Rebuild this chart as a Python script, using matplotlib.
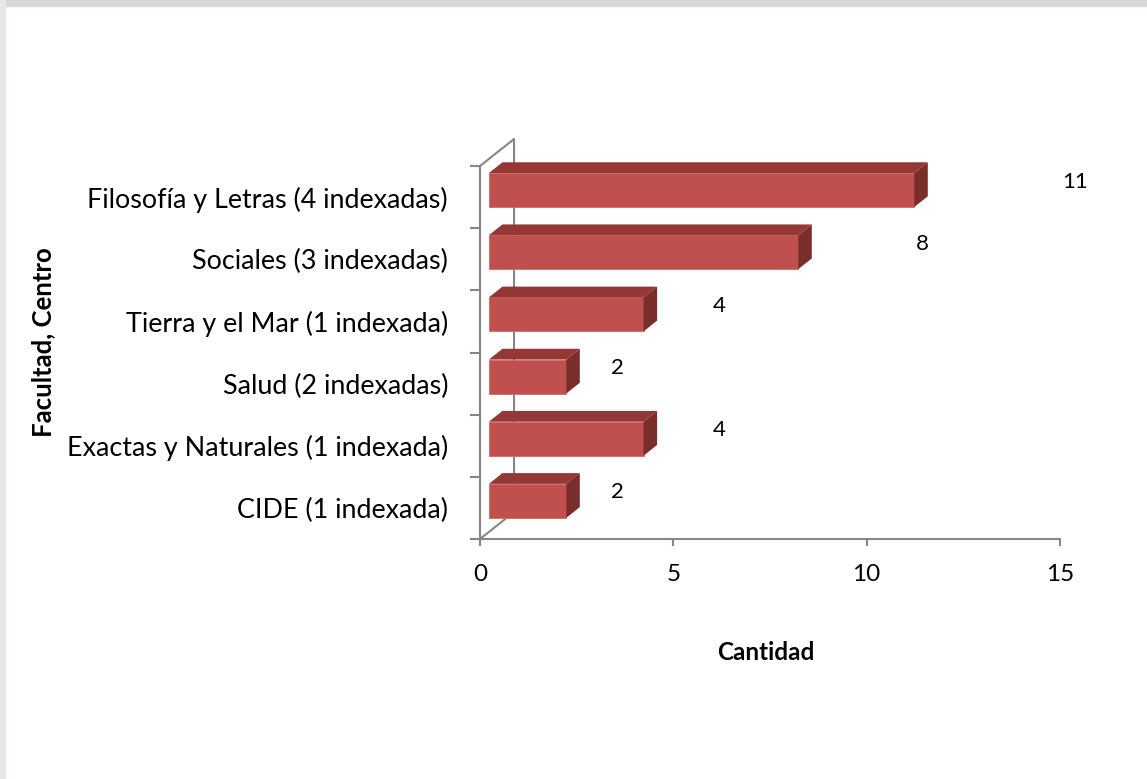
import matplotlib.pyplot as plt
from matplotlib.patches import Polygon, Rectangle
import numpy as np

plt.rcParams['font.family'] = ['Lato', 'DejaVu Sans']

# Data (top to bottom as shown)
categories = ['Filosofía y Letras (4 indexadas)', 'Sociales (3 indexadas)',
              'Tierra y el Mar (1 indexada)', 'Salud (2 indexadas)',
              'Exactas y Naturales (1 indexada)', 'CIDE (1 indexada)']
values = [11, 8, 4, 2, 4, 2]
xticks = [0, 5, 10, 15]

front_col = '#C0504D'
top_col = '#953735'
side_col = '#7A2E2C'
axis_col = '#868686'

W, H = 1147, 779
fig = plt.figure(figsize=(W / 100, H / 100), dpi=100)

# gray frame at top / left
fig.patches.append(Rectangle((0, 1 - 6 / H), 1, 6 / H, transform=fig.transFigure,
                             color='#DAD6D8', zorder=0))
fig.patches.append(Rectangle((0, 0), 5 / W, 1, transform=fig.transFigure,
                             color='#E8E6E8', zorder=0))

ax = fig.add_axes([480 / W, 1 - 539 / H, 580 / W, 373 / H])
ax.set_xlim(0, 15)
ax.set_ylim(0, 6)
ax.patch.set_alpha(0)

# depth of the 3D box in data units
DX, DY = 0.88, 0.434
f_front, f_bar = 0.26, 0.40
bh = 0.547

# back wall lines
ax.plot([0, DX, DX], [6, 6 + DY, DY], color=axis_col, lw=1.5, clip_on=False, zorder=1)
ax.plot([0, DX], [0, DY], color=axis_col, lw=1.5, clip_on=False, zorder=1)

n = len(categories)
centers = np.arange(n)[::-1] + 0.5
x0 = f_front * DX
y_off = f_front * DY
bdx, bdy = f_bar * DX, f_bar * DY

ax.barh(centers + y_off, values, height=bh, left=x0, color=front_col,
        edgecolor='#D06A66', linewidth=0.6, zorder=3)
for c, v in zip(centers, values):
    yb = c + y_off - bh / 2
    yt = c + y_off + bh / 2
    x1 = x0 + v
    ax.add_patch(Polygon([(x0, yt), (x1, yt), (x1 + bdx, yt + bdy), (x0 + bdx, yt + bdy)],
                         closed=True, facecolor=top_col, edgecolor='none', zorder=3,
                         clip_on=False))
    ax.add_patch(Polygon([(x1, yb), (x1, yt), (x1 + bdx, yt + bdy), (x1 + bdx, yb + bdy)],
                         closed=True, facecolor=side_col, edgecolor='none', zorder=3,
                         clip_on=False))
    # data labels (Excel 3D placement)
    ax.text(v * 1.314 + 0.93, c + 0.25, str(v), fontsize=16, ha='center', va='center')

for s in ['top', 'right']:
    ax.spines[s].set_visible(False)
for s in ['left', 'bottom']:
    ax.spines[s].set_color(axis_col)
    ax.spines[s].set_linewidth(1.5)

ax.set_xticks(xticks)
ax.set_xticklabels([str(t) for t in xticks], fontsize=17.5)
ax.tick_params(axis='x', length=5, width=1.5, color=axis_col, pad=13)

ax.set_yticks(np.arange(n + 1))
ax.set_yticklabels([])
ax.tick_params(axis='y', which='major', length=7, width=1.5, color=axis_col)
ax.set_yticks(centers, minor=True)
ax.set_yticklabels(categories, minor=True, fontsize=19.4)
ax.tick_params(axis='y', which='minor', length=0, pad=23)

fig.text(766 / W, 1 - 652 / H, 'Cantidad', fontsize=17.5, fontweight='bold',
         ha='center', va='center')
fig.text(43 / W, 1 - 342 / H, 'Facultad, Centro', fontsize=18.5, fontweight='bold',
         ha='center', va='center', rotation=90)

fig.savefig('out.png', dpi=100)
